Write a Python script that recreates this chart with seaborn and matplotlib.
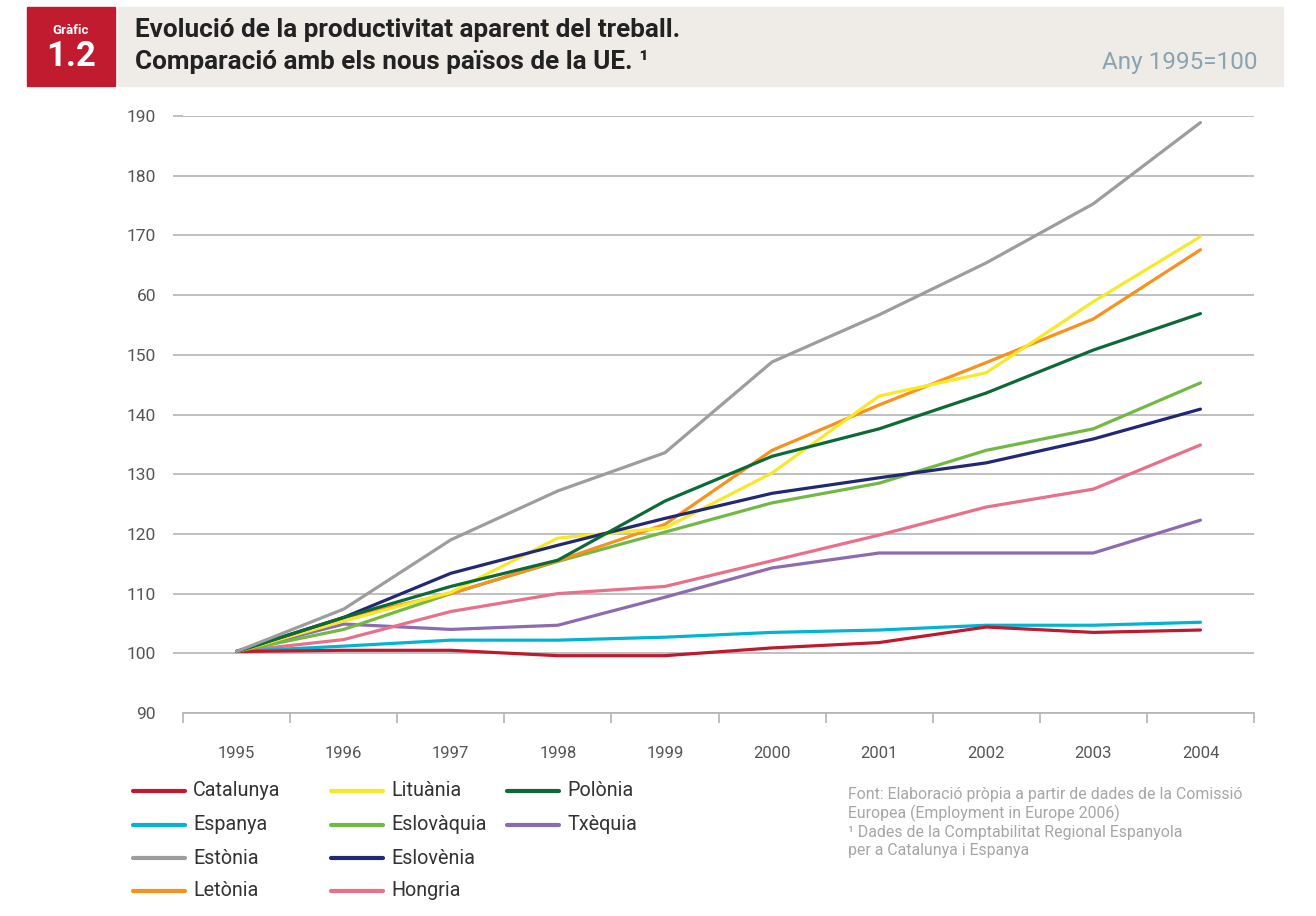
import pandas as pd
import matplotlib.pyplot as plt
import seaborn as sns
from matplotlib.patches import Rectangle
from matplotlib.lines import Line2D

# -----------------------------------------
# Data (index 1995 = 100)
# -----------------------------------------
years = ["1995", "1996", "1997", "1998", "1999", "2000", "2001", "2002", "2003", "2004"]

catalunya = [100.3, 100.5, 100.5, 99.6, 99.6, 100.9, 101.8, 104.4, 103.5, 103.9]
espanya = [100.3, 101.2, 102.2, 102.2, 102.7, 103.5, 103.9, 104.7, 104.7, 105.2]
estonia = [100.3, 107.4, 119.0, 127.2, 133.6, 148.8, 156.7, 165.4, 175.3, 188.9]
letonia = [100.3, 106.0, 110.0, 115.5, 121.6, 134.0, 141.6, 148.7, 156.0, 167.6]
lituania = [100.3, 105.4, 110.2, 119.3, 121.0, 130.2, 143.1, 147.0, 158.9, 169.8]
polonia = [100.3, 106.0, 111.2, 115.6, 125.5, 133.0, 137.6, 143.6, 150.8, 156.9]
eslovaquia = [100.3, 104.0, 110.0, 115.4, 120.3, 125.2, 128.5, 134.0, 137.6, 145.3]
eslovenia = [100.3, 106.0, 113.4, 118.1, 122.6, 126.8, 129.4, 131.9, 135.9, 140.9]
hongria = [100.3, 102.3, 107.0, 110.0, 111.2, 115.5, 119.8, 124.5, 127.5, 134.9]
txequia = [100.3, 104.9, 104.0, 104.7, 109.4, 114.3, 116.8, 116.8, 116.8, 122.3]

series_names = ["Catalunya", "Espanya", "Estònia", "Letònia", "Lituània",
                "Eslovàquia", "Eslovènia", "Hongria", "Polònia", "Txèquia"]
series_values = [catalunya, espanya, estonia, letonia, lituania,
                 eslovaquia, eslovenia, hongria, polonia, txequia]
colors = ["#c0192e", "#00b5d1", "#9d9d9d", "#f7921e", "#f5e92a",
          "#72b844", "#232873", "#e8708a", "#0d6a37", "#8c6bb1"]

y_ticks = [90, 100, 110, 120, 130, 140, 150, 160, 170, 180, 190]
y_labels = ["90", "100", "110", "120", "130", "140", "150", "60", "170", "180", "190"]

# legend order as in the reference (3 columns)
legend_cols = [["Catalunya", "Espanya", "Estònia", "Letònia"],
               ["Lituània", "Eslovàquia", "Eslovènia", "Hongria"],
               ["Polònia", "Txèquia"]]

rows = []
for name, vals in zip(series_names, series_values):
    for i, v in enumerate(vals):
        rows.append({"pais": name, "x": i, "valor": v})
df = pd.DataFrame(rows)
palette = dict(zip(series_names, colors))

# -----------------------------------------
# Figure
# -----------------------------------------
sns.set_style("white")
plt.rcParams["font.family"] = ["Roboto", "DejaVu Sans"]

W, H = 1316, 916
fig = plt.figure(figsize=(W / 100, H / 100), dpi=100)


def fx(px):
    return px / W


def fy(py):
    return 1 - py / H


ax = fig.add_axes([fx(183), fy(713), fx(1254) - fx(183), fy(116) - fy(713)])

# draw order: back lines first so overlaps look like the reference
draw_order = ["Txèquia", "Hongria", "Espanya", "Catalunya", "Eslovàquia",
              "Letònia", "Lituània", "Eslovènia", "Polònia", "Estònia"]
sns.lineplot(data=df, x="x", y="valor", hue="pais", hue_order=draw_order,
             palette=palette, linewidth=2.3, legend=False, ax=ax,
             solid_capstyle="round")

ax.set_xlim(-0.5, 9.5)
ax.set_ylim(90, 190)
ax.set_xlabel("")
ax.set_ylabel("")

grid_c = "#b4b4b4"
ax.set_yticks(y_ticks)
ax.set_yticklabels(y_labels)
ax.yaxis.grid(True, color=grid_c, linewidth=1.2, zorder=0)
ax.set_axisbelow(True)
ax.tick_params(axis="y", length=7.5, width=1.2, color=grid_c, pad=12,
               labelsize=12.5, labelcolor="#555555", left=True)
# no tick mark on the 90 level (the baseline is the spine)
ax.yaxis.get_major_ticks()[0].tick1line.set_visible(False)

ax.set_xticks(range(len(years)))
ax.set_xticklabels(years)
ax.set_xticks([i - 0.5 for i in range(len(years) + 1)], minor=True)
ax.tick_params(axis="x", which="major", length=0, pad=24,
               labelsize=12, labelcolor="#555555")
ax.tick_params(axis="x", which="minor", length=7, width=1.2, color=grid_c,
               bottom=True)

for s in ["top", "right", "left"]:
    ax.spines[s].set_visible(False)
ax.spines["bottom"].set_color(grid_c)
ax.spines["bottom"].set_linewidth(1.2)

# -----------------------------------------
# Header
# -----------------------------------------
fig.patches.append(Rectangle((fx(27), fy(86)), fx(115) - fx(27), fy(7) - fy(86),
                             transform=fig.transFigure, color="#c11b2f", zorder=0))
fig.patches.append(Rectangle((fx(118), fy(86)), fx(1283) - fx(118), fy(7) - fy(86),
                             transform=fig.transFigure, color="#efece8", zorder=0))

fig.text(fx(71), fy(31), "Gràfic", color="white", fontsize=9.5, fontweight="bold",
         ha="center", va="center")
fig.text(fx(71), fy(56), "1.2", color="white", fontsize=25, fontweight="bold",
         ha="center", va="center")
fig.text(fx(135), fy(30), "Evolució de la productivitat aparent del treball.",
         color="#222222", fontsize=18.8, fontweight="bold", ha="left", va="center")
fig.text(fx(135), fy(62), "Comparació amb els nous països de la UE. ¹",
         color="#222222", fontsize=18.8, fontweight="bold", ha="left", va="center")
fig.text(fx(1258), fy(62), "Any 1995=100", color="#8aa3b0", fontsize=17.5,
         ha="right", va="center")

# -----------------------------------------
# Legend (manual, 3 columns)
# -----------------------------------------
col_x = [133, 331, 507]
row_y = [791, 825, 858, 891]
for cx, names in zip(col_x, legend_cols):
    for ry, name in zip(row_y, names):
        fig.add_artist(Line2D([fx(cx), fx(cx + 52)], [fy(ry), fy(ry)],
                              transform=fig.transFigure, color=palette[name],
                              linewidth=3, solid_capstyle="round"))
        fig.text(fx(cx + 60), fy(ry), name, color="#333333", fontsize=14.2,
                 ha="left", va="center")

# -----------------------------------------
# Source note
# -----------------------------------------
note_c = "#a6a6a6"
fig.text(fx(848), fy(794), "Font: Elaboració pròpia a partir de dades de la Comissió",
         color=note_c, fontsize=11.4, ha="left", va="center")
fig.text(fx(848), fy(813), "Europea (Employment in Europe 2006)",
         color=note_c, fontsize=11.4, ha="left", va="center")
fig.text(fx(848), fy(832), "¹ Dades de la Comptabilitat Regional Espanyola",
         color=note_c, fontsize=11.4, ha="left", va="center")
fig.text(fx(848), fy(851), "per a Catalunya i Espanya",
         color=note_c, fontsize=11.4, ha="left", va="center")

plt.savefig("out.png", dpi=100)
plt.close()
